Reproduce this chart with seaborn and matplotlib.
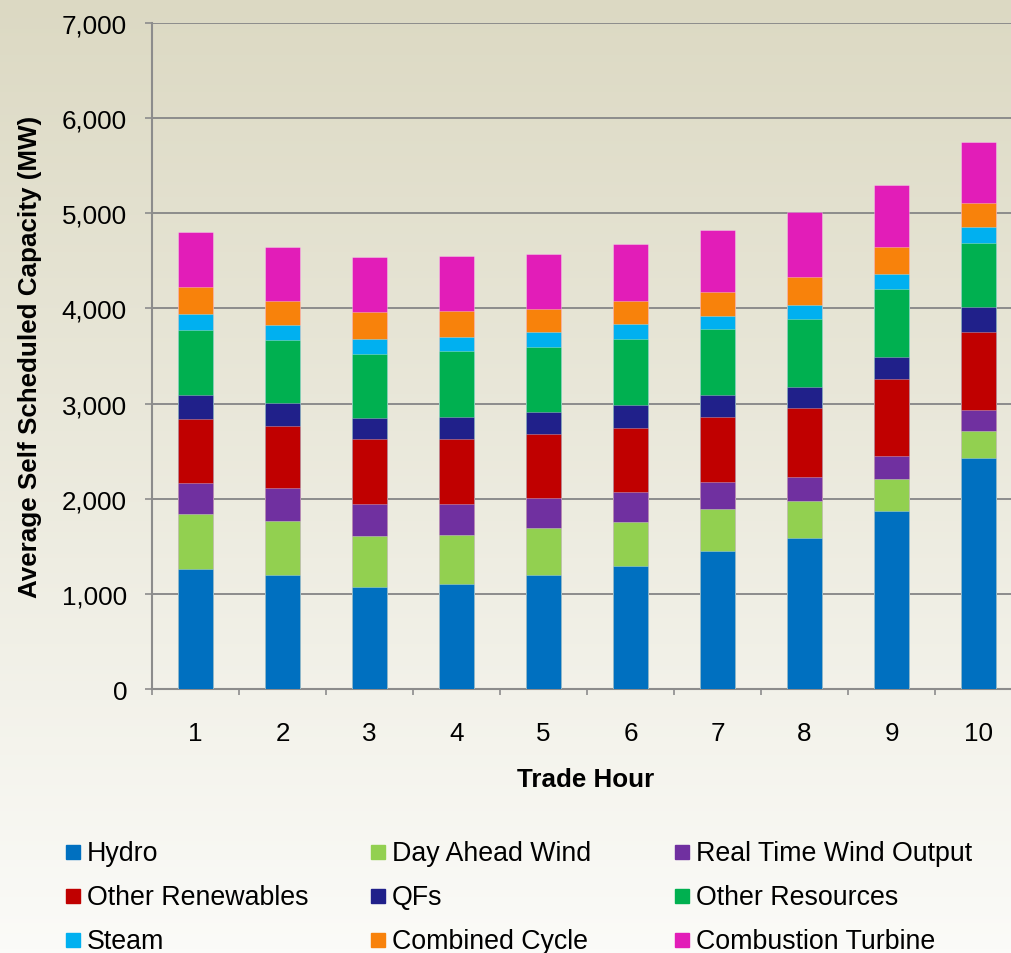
import numpy as np
import pandas as pd
import matplotlib
matplotlib.use("Agg")
import matplotlib.pyplot as plt
import seaborn as sns
from matplotlib.patches import Rectangle
from matplotlib.ticker import FixedLocator

# data (MW)
hours = ["1", "2", "3", "4", "5", "6", "7", "8", "9", "10"]
hydro = [1265, 1201, 1069, 1104, 1198, 1293, 1454, 1586, 1876, 2431]
day_ahead_wind = [571, 568, 539, 515, 491, 466, 435, 390, 329, 283]
rt_wind = [333, 344, 336, 325, 319, 308, 287, 256, 241, 217]
other_renew = [672, 651, 680, 684, 672, 676, 687, 718, 810, 818]
qfs = [246, 242, 228, 235, 228, 242, 224, 219, 229, 261]
other_res = [690, 662, 669, 686, 690, 697, 700, 718, 719, 673]
steam = [168, 161, 161, 154, 154, 154, 137, 153, 161, 168]
comb_cycle = [277, 246, 281, 270, 245, 242, 249, 290, 279, 255]
comb_turbine = [585, 574, 578, 582, 575, 599, 655, 685, 658, 638]

series_names = ["Hydro", "Day Ahead Wind", "Real Time Wind Output",
                "Other Renewables", "QFs", "Other Resources",
                "Steam", "Combined Cycle", "Combustion Turbine"]
series_vals = [hydro, day_ahead_wind, rt_wind, other_renew, qfs,
               other_res, steam, comb_cycle, comb_turbine]
colors = ["#0070C0", "#92D050", "#7030A0", "#C00000", "#20208A",
          "#00B050", "#00B0F0", "#F8820B", "#E21DB8"]

y_ticks = [0, 1000, 2000, 3000, 4000, 5000, 6000, 7000]
y_tick_labels = ["0", "1,000", "2,000", "3,000", "4,000", "5,000", "6,000", "7,000"]

sns.set_style("ticks")
plt.rcParams['font.family'] = ['Liberation Sans', 'DejaVu Sans']
plt.rcParams['text.color'] = 'black'
plt.rcParams['axes.labelcolor'] = 'black'
plt.rcParams['xtick.labelcolor'] = 'black'
plt.rcParams['ytick.labelcolor'] = 'black'

fig = plt.figure(figsize=(10.11, 9.54), dpi=100)

# background gradient for the whole figure
bg = fig.add_axes([0, 0, 1, 1], zorder=-10)
top_c = np.array([220, 217, 195]) / 255
bot_c = np.array([251, 251, 248]) / 255
t = np.linspace(0, 1, 256)[:, None]
grad = top_c[None, :] * (1 - t) + bot_c[None, :] * t
bg.imshow(grad[:, None, :], aspect='auto', extent=[0, 1, 0, 1])
bg.set_axis_off()

W, H = 1011, 954
ax = fig.add_axes([152 / W, 264 / H, 870 / W, 666 / H])
ax.set_facecolor('none')

# stacked bars: draw cumulative totals from the top layer down
df = pd.DataFrame(dict(zip(series_names, series_vals)), index=hours)
cum = df.cumsum(axis=1)
for name, col in zip(series_names[::-1], colors[::-1]):
    sns.barplot(x=hours, y=cum[name].values, color=col, width=0.4,
                errorbar=None, saturation=1, ax=ax,
                edgecolor=(1, 1, 1, 0.35), linewidth=0.6, zorder=3)

ax.set_xlim(-0.5, 9.5)
ax.set_ylim(0, 7000)
ax.set_yticks(y_ticks)
ax.set_yticklabels(y_tick_labels)
ax.yaxis.grid(True, color='#8c8c8c', lw=1.4, zorder=0)
ax.set_axisbelow(True)

for s in ['top', 'right']:
    ax.spines[s].set_visible(False)
for s in ['left', 'bottom']:
    ax.spines[s].set_color('#8c8c8c')
    ax.spines[s].set_linewidth(1.5)

ax.tick_params(axis='y', direction='out', length=5, width=1.2, color='#8c8c8c',
               labelsize=18.7, pad=13)
ax.tick_params(axis='x', which='major', length=0, labelsize=18.7, pad=23)
ax.xaxis.set_minor_locator(FixedLocator(np.arange(-0.5, 10, 1)))
ax.tick_params(axis='x', which='minor', direction='out', length=4.5, width=1.2,
               color='#8c8c8c')

ax.set_xlabel("Trade Hour", fontsize=18.7, fontweight='bold')
ax.xaxis.set_label_coords(434 / 870, (690 - 768) / 666)
ax.set_ylabel("Average Self Scheduled Capacity (MW)", fontsize=18.7,
              fontweight='bold')
ax.yaxis.set_label_coords((42 - 152) / 870, 0.5)

# legend: 3 x 3 grid, row-wise order
col_x = [66, 371, 675]
row_y = [853, 897, 941]
for i, (name, col) in enumerate(zip(series_names, colors)):
    r, c = divmod(i, 3)
    x0, y0 = col_x[c], row_y[r]
    fig.add_artist(Rectangle((x0 / W, 1 - (y0 + 7) / H), 14 / W, 14 / H,
                             transform=fig.transFigure, color=col))
    fig.text((x0 + 21) / W, 1 - (y0 + 1) / H, name, fontsize=19.3,
             va='center', ha='left')

fig.savefig("out.png", dpi=100)
